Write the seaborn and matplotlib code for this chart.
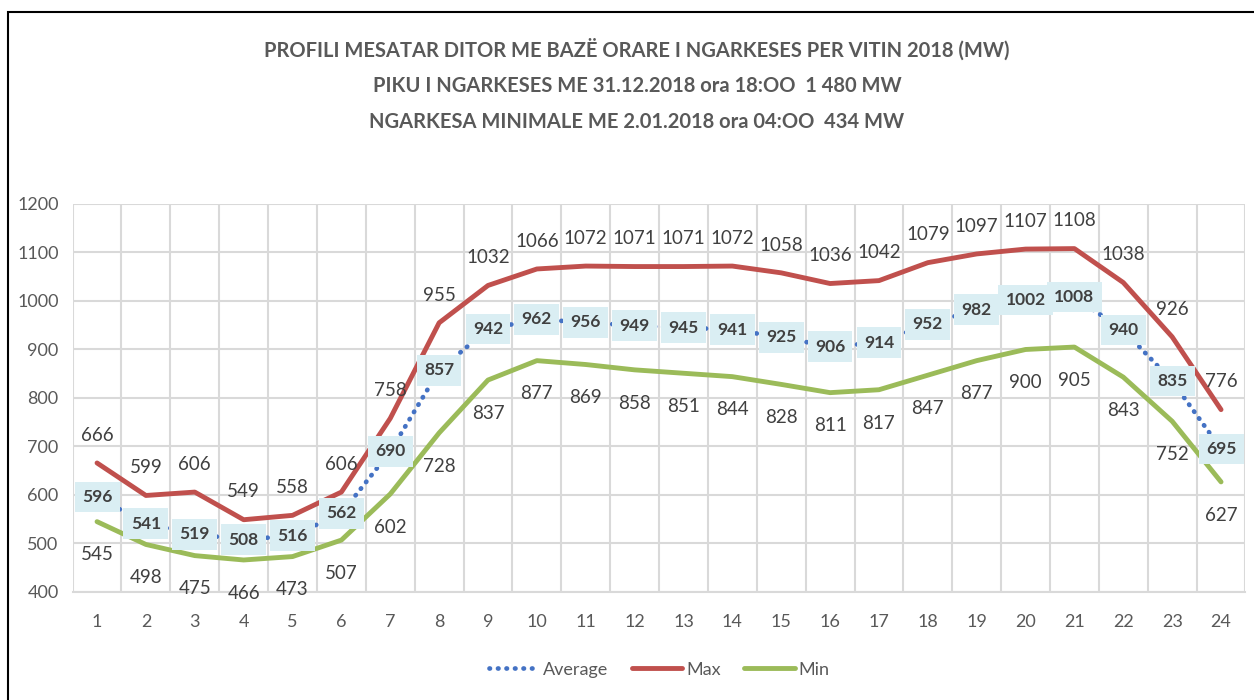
import matplotlib
matplotlib.use("Agg")
import matplotlib.pyplot as plt
import seaborn as sns
import pandas as pd
from matplotlib.patches import Rectangle

hours = list(range(1, 25))
average = [596, 541, 519, 508, 516, 562, 690, 857, 942, 962, 956, 949,
           945, 941, 925, 906, 914, 952, 982, 1002, 1008, 940, 835, 695]
maximum = [666, 599, 606, 549, 558, 606, 758, 955, 1032, 1066, 1072, 1071,
           1071, 1072, 1058, 1036, 1042, 1079, 1097, 1107, 1108, 1038, 926, 776]
minimum = [545, 498, 475, 466, 473, 507, 602, 728, 837, 877, 869, 858,
           851, 844, 828, 811, 817, 847, 877, 900, 905, 843, 752, 627]
title_lines = [
    "PROFILI MESATAR DITOR ME BAZË ORARE I NGARKESES PER VITIN 2018 (MW)",
    "PIKU I NGARKESES ME 31.12.2018 ora 18:OO  1 480 MW",
    "NGARKESA MINIMALE ME 2.01.2018 ora 04:OO  434 MW",
]

df = pd.DataFrame({"hour": hours, "Average": average, "Max": maximum, "Min": minimum})

sns.set_theme(style="white")
plt.rcParams['font.family'] = ['Lato', 'DejaVu Sans']

grey = "#595959"
fig = plt.figure(figsize=(12.54, 7), dpi=100)
fig.patches.append(Rectangle((8 / 1254, -0.1), 1.2, (700 - 12) / 700 + 0.1,
                             transform=fig.transFigure, fill=False,
                             edgecolor="black", linewidth=1.5))
ax = fig.add_axes([0.0579, 0.1543, 0.9353, 0.5543])

sns.lineplot(data=df, x="hour", y="Average", ax=ax, color="#4472C4",
             linewidth=3.4, linestyle=(0, (0.1, 1.7)), dash_capstyle="round",
             label="Average")
sns.lineplot(data=df, x="hour", y="Max", ax=ax, color="#C0504D",
             linewidth=3.5, label="Max")
sns.lineplot(data=df, x="hour", y="Min", ax=ax, color="#9BBB59",
             linewidth=3.5, label="Min")

for h, v in zip(hours, maximum):
    ax.annotate(str(v), (h, v), xytext=(0, 20), textcoords="offset points",
                ha="center", va="center", fontsize=13.5, color="#404040")
for h, v in zip(hours, minimum):
    ax.annotate(str(v), (h, v), xytext=(0, -24), textcoords="offset points",
                ha="center", va="center", fontsize=13.5, color="#404040")
for h, v in zip(hours, average):
    ax.annotate(str(v), (h, v), ha="center", va="center", fontsize=12.5,
                fontweight="bold", color="#404040",
                bbox=dict(boxstyle="square,pad=0.42", fc="#DAEEF3", ec="none"))

ax.set_xlim(0.5, 24.5)
ax.set_ylim(400, 1200)
ax.set_xticks(hours)
ax.set_yticks(range(400, 1201, 100))
ax.tick_params(axis="both", labelsize=13, colors=grey, length=0)
ax.tick_params(axis="x", pad=16)
ax.tick_params(axis="y", pad=10)
ax.set_xticks([x + 0.5 for x in range(0, 25)], minor=True)
ax.tick_params(which="minor", length=0)
ax.grid(True, which="major", axis="y", color="#D9D9D9", linewidth=1.5)
ax.grid(True, which="minor", axis="x", color="#D9D9D9", linewidth=1.5)
ax.set_xlabel("")
ax.set_ylabel("")
for s in ax.spines.values():
    s.set_visible(False)
ax.spines["bottom"].set_visible(True)
ax.spines["bottom"].set_color("#D9D9D9")
ax.spines["bottom"].set_linewidth(1.5)

for i, t in enumerate(title_lines):
    fig.text(637 / 1254, 1 - (50 + i * 36) / 700, t, ha="center", va="center",
             fontsize=14.5, fontweight="bold", color=grey)

leg = ax.legend(loc="center", bbox_to_anchor=(0.5, -0.2), ncol=3, frameon=False,
                fontsize=13, handlelength=2.8, columnspacing=1.3, handletextpad=0.2)
for t in leg.get_texts():
    t.set_color(grey)

fig.savefig("out.png", dpi=100)
